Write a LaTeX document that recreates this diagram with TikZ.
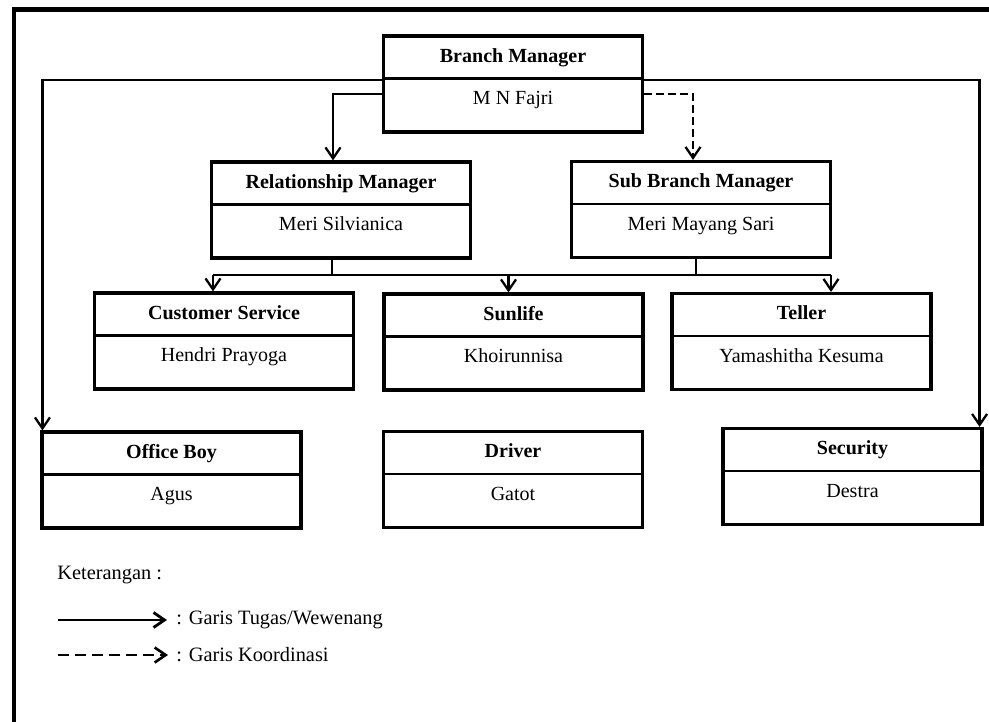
\documentclass[tikz,border=0pt]{standalone}
\usepackage{fontspec}
\setmainfont{Liberation Serif}
\usetikzlibrary{arrows.meta}

\begin{document}
\begin{tikzpicture}[x=0.02cm, y=-0.02cm,
  orgbox/.style={draw, line width=1.8pt, minimum width=5.18cm, minimum height=1.92cm, inner sep=0pt},
  divider/.style={line width=1.3pt},
  boxtitle/.style={anchor=base, inner sep=0pt, font=\fontsize{11.4}{13}\selectfont\bfseries},
  boxperson/.style={anchor=base, inner sep=0pt, font=\fontsize{11.4}{13}\selectfont},
  legend/.style={anchor=west, inner sep=0pt, font=\fontsize{11.6}{13}\selectfont},
  link/.style={line width=1.3pt},
  arr/.style={link, -{Straight Barb[length=2.2mm,width=3mm]}},
  coord/.style={arr, dash pattern=on 0.16cm off 0.08cm}]
  \useasboundingbox (0,0) rectangle (989,722);
  \draw[line width=2.5pt] (14,740) -- (14,9.5) -- (1000,9.5);
  % boxes
  \foreach \id/\px/\py/\ttl/\who in {bm/513/84/Branch Manager/M N Fajri,
      rm/341/210/Relationship Manager/Meri Silvianica,
      sbm/701/209.5/Sub Branch Manager/Meri Mayang Sari,
      cs/224/341/Customer Service/Hendri Prayoga,
      sl/513.5/342/Sunlife/Khoirunnisa,
      te/801.5/341.5/Teller/Yamashitha Kesuma,
      ob/171.5/480/Office Boy/Agus,
      dr/513/479.5/Driver/Gatot,
      se/852.5/476.5/Security/Destra} {
    \node[orgbox] (\id) at (\px,\py) {};
    \draw[divider] ([yshift=-0.88cm]\id.north west) -- ([yshift=-0.88cm]\id.north east);
    \node[boxtitle] (\id-t) at ([yshift=-0.56cm]\id.north) {\ttl};
    \node[boxperson] (\id-p) at ([yshift=-1.41cm]\id.north) {\who};
  }
  % lines from the branch manager
  \draw[arr] ([yshift=-0.2cm]bm.west) -| ([xshift=-0.16cm]rm.north);
  \draw[coord] ([yshift=-0.2cm]bm.east) -| ([xshift=-0.16cm]sbm.north);
  \draw[arr] ([yshift=0.08cm]bm.west) -| ([xshift=0.04cm]ob.north west);
  \draw[arr] ([yshift=0.08cm]bm.east) -| ([xshift=-0.08cm]se.north east);
  % bus to the third row
  \coordinate (busl) at (213,275);
  \coordinate (busr) at (831,275);
  \draw[link] ([xshift=-0.18cm]rm.south) |- (busl);
  \draw[link] ([xshift=-0.1cm]sbm.south) |- (busl);
  \draw[link] ([xshift=-0.1cm]sbm.south) |- (busr);
  \draw[arr] (busl) -- (busl |- cs.north);
  \draw[arr] ([xshift=-0.1cm]sl.north |- busl) -- ([xshift=-0.1cm]sl.north);
  \draw[arr] (busr) -- (busr |- te.north);
  % legend
  \node[legend] (ket) at (57,575) {Keterangan :};
  \coordinate (tgsa) at (58,620);
  \coordinate (tgsb) at (167,620);
  \draw[arr, line width=1.6pt] (tgsa) -- (tgsb);
  \node[legend] (tgs) at (176,620) {: Garis Tugas/Wewenang};
  \coordinate (kora) at (58,655);
  \coordinate (korb) at (168,655);
  \draw[coord, line width=1.5pt, dash pattern=on 0.22cm off 0.12cm] (kora) -- (korb);
  \node[legend] (kor) at (176,655) {: Garis Koordinasi};
\end{tikzpicture}
\end{document}
